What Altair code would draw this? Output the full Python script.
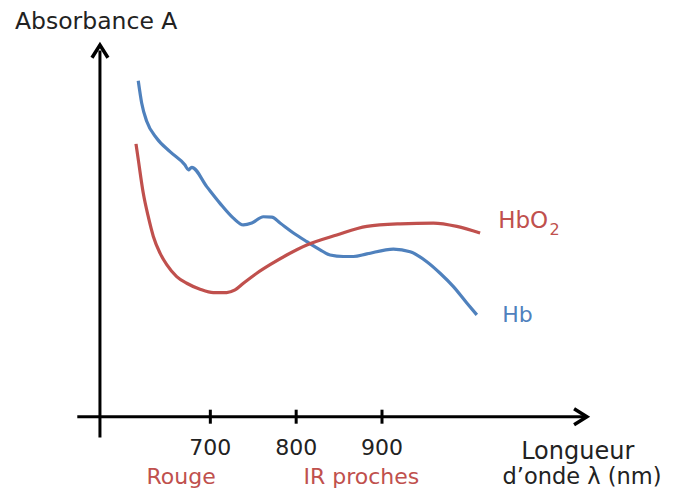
import altair as alt
import pandas as pd

# Hb (deoxyhemoglobin) absorbance curve (arbitrary units)
hb_wl = [616, 620, 626, 637.5, 653, 670.5, 674.4, 678.3, 695.8, 711.3, 726.5, 738.5,
         748.3, 761.8, 771.6, 781.2, 796.4, 812.4, 827.9, 839.5, 855, 866.7, 882.3,
         913.3, 932.8, 952.2, 967.7, 983.2, 998.8, 1010.5]
hb_abs = [0.904, 0.844, 0.794, 0.749, 0.713, 0.677, 0.664, 0.671, 0.619, 0.574, 0.535, 0.516,
          0.521, 0.538, 0.537, 0.521, 0.495, 0.471, 0.449, 0.435, 0.431, 0.431, 0.438,
          0.451, 0.444, 0.417, 0.386, 0.350, 0.306, 0.274]

# HbO2 (oxyhemoglobin) absorbance curve
hbo2_wl = [613.4, 616.1, 621.9, 627.7, 633.6, 641.4, 649.2, 660.8, 672.5, 688, 703.5,
           719.1, 728.8, 738.5, 754.1, 769.6, 789, 812.4, 847.3, 882.3, 921.1, 959.9,
           987.2, 1014.3]
hbo2_abs = [0.734, 0.691, 0.601, 0.538, 0.485, 0.440, 0.409, 0.377, 0.359, 0.343, 0.334,
            0.334, 0.341, 0.359, 0.386, 0.409, 0.435, 0.462, 0.489, 0.512, 0.519, 0.521,
            0.512, 0.494]

tick_values = [700, 800, 900]
tick_labels = ["700", "800", "900"]

RED = "#C0504D"
BLUE = "#4F81BD"
FONT = "DejaVu Sans"

curves = pd.concat([
    pd.DataFrame({"wl": hb_wl, "a": hb_abs, "s": "Hb"}),
    pd.DataFrame({"wl": hbo2_wl, "a": hbo2_abs, "s": "HbO2"}),
])

XS = alt.Scale(domain=[540, 1140], nice=False, zero=False)
YS = alt.Scale(domain=[-0.06, 1.0], nice=False, zero=False)


def xe(field="wl"):
    return alt.X(f"{field}:Q", scale=XS, axis=None)


def ye(field="a"):
    return alt.Y(f"{field}:Q", scale=YS, axis=None)


lines = alt.Chart(curves).mark_line(interpolate="monotone", strokeWidth=3.2).encode(
    x=xe(), y=ye(),
    color=alt.Color("s:N", scale=alt.Scale(domain=["Hb", "HbO2"], range=[BLUE, RED]), legend=None),
    detail="s:N",
)

# axes drawn as arrows
xaxis = alt.Chart(pd.DataFrame({"wl": [545], "wl2": [1137], "a": [0]})).mark_rule(
    strokeWidth=3, color="black").encode(x=xe(), x2="wl2:Q", y=ye())
yaxis = alt.Chart(pd.DataFrame({"wl": [571.4], "a": [-0.056], "a2": [0.985]})).mark_rule(
    strokeWidth=3, color="black").encode(x=xe(), y=ye(), y2="a2:Q")
xarrow = alt.Chart(pd.DataFrame({"wl": [1138.7], "a": [0]})).mark_point(
    shape="M-1.6,-1L0,0L-1.6,1", size=256, filled=False, strokeWidth=3.5,
    color="black", opacity=1, strokeJoin="miter").encode(x=xe(), y=ye())
yarrow = alt.Chart(pd.DataFrame({"wl": [571.4], "a": [1.0]})).mark_point(
    shape="M-1,1.6L0,0L1,1.6", size=256, filled=False, strokeWidth=3.5,
    color="black", opacity=1, strokeJoin="miter").encode(x=xe(), y=ye())

ticks_df = pd.DataFrame({"wl": tick_values, "label": tick_labels, "a": [0] * 3})
ticks = alt.Chart(ticks_df).mark_tick(orient="vertical", size=14, thickness=3,
                                      color="black", opacity=1).encode(x=xe(), y=ye())
tick_text = alt.Chart(ticks_df).mark_text(font=FONT, fontSize=22, color="#222222",
                                          baseline="alphabetic", align="center", dy=38).encode(
    x=xe(), y=ye(), text="label:N")


def label(text, wl, a, size, color, align="left"):
    return alt.Chart(pd.DataFrame({"wl": [wl], "a": [a], "t": [text]})).mark_text(
        font=FONT, fontSize=size, color=color, align=align, baseline="alphabetic").encode(
        x=xe(), y=ye(), text="t:N")


labels = [
    label("Absorbance A", 472.4, 1.043, 23.5, "#222222"),
    label("Rouge", 666, -0.181, 22, RED, "center"),
    label("IR proches", 876, -0.181, 22, RED, "center"),
    label("Longueur", 1128, -0.115, 24, "#222222", "center"),
    label("d\u2019onde \u03bb (nm)", 1133, -0.181, 22.5, "#222222", "center"),
    label("HbO", 1035.3, 0.508, 23, RED),
    label("2", 1095, 0.489, 16, RED),
    label("Hb", 1040, 0.255, 22, BLUE),
]

chart = alt.layer(lines, xaxis, yaxis, xarrow, yarrow, ticks, tick_text, *labels).properties(
    width=515, height=394,
    autosize=alt.AutoSizeParams(type="none"),
    padding={"left": 65, "top": 37, "right": 77, "bottom": 52},
    background="white",
).configure_view(strokeWidth=0, stroke="transparent")

chart.save("out.html", embed_options={"renderer": "svg", "actions": False})
